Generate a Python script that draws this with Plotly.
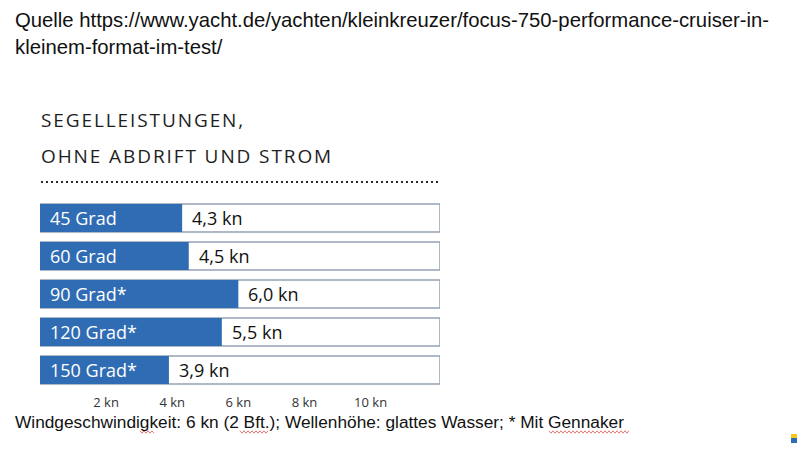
import plotly.graph_objects as go

# ---- data ----
categories = ["45 Grad", "60 Grad", "90 Grad*", "120 Grad*", "150 Grad*"]
speeds_kn = [4.3, 4.5, 6.0, 5.5, 3.9]
value_labels = ["4,3 kn", "4,5 kn", "6,0 kn", "5,5 kn", "3,9 kn"]
tick_values = [2, 4, 6, 8, 10]
tick_labels = ["2 kn", "4 kn", "6 kn", "8 kn", "10 kn"]
scale_max = 12.1

BLUE = "#2f6cb4"
BORDER = "#95a3b3"
W, H = 800, 452

fig = go.Figure()

# background boxes (full scale)
fig.add_trace(go.Bar(
    y=categories, x=[scale_max] * len(categories), orientation="h",
    marker=dict(color="white", line=dict(color=BORDER, width=1.5)),
    width=0.74, hoverinfo="skip", showlegend=False,
))
# speed bars
fig.add_trace(go.Bar(
    y=categories, x=speeds_kn, orientation="h",
    marker=dict(color=BLUE, line=dict(width=0)),
    width=0.74, showlegend=False,
))

annotations = []
for cat, v, lab in zip(categories, speeds_kn, value_labels):
    annotations.append(dict(
        x=0, y=cat, xref="x", yref="y", text=cat, showarrow=False,
        xanchor="left", yanchor="middle", xshift=8,
        font=dict(family="Open Sans", size=18, color="white"),
    ))
    annotations.append(dict(
        x=v, y=cat, xref="x", yref="y", text=lab, showarrow=False,
        xanchor="left", yanchor="middle", xshift=8,
        font=dict(family="Open Sans", size=18, color="#111111"),
    ))

def paper_text(text, x, y, size, family, color="#111111"):
    return dict(x=x / W, y=1 - y / H, xref="paper", yref="paper", text=text,
                showarrow=False, xanchor="left", yanchor="middle",
                font=dict(family=family, size=size, color=color))

def spaced(s):
    return "\u200a".join(s)

annotations += [
    paper_text("Quelle https://www.yacht.de/yachten/kleinkreuzer/focus-750-performance-cruiser-in-",
               13, 20, 20.3, "Liberation Sans"),
    paper_text("kleinem-format-im-test/", 13, 47, 20.3, "Liberation Sans"),
    paper_text(spaced("SEGELLEISTUNGEN,"), 39, 120, 19, "Open Sans", "#1e1e1e"),
    paper_text(spaced("OHNE ABDRIFT UND STROM"), 39, 156, 19, "Open Sans", "#1e1e1e"),
    paper_text("Windgeschwindigkeit: 6 kn (2 Bft.); Wellenhöhe: glattes Wasser; * Mit Gennaker",
               13, 422, 17.3, "Liberation Sans"),
]

def zigzag(x0, x1, y, step=2, amp=1.2):
    pts = []
    x = x0
    up = True
    while x <= x1:
        yy = y - amp if up else y + amp
        pts.append(f"{x / W:.5f},{1 - yy / H:.5f}")
        x += step
        up = not up
    return "M" + " L".join(pts)

shapes = [
    dict(type="line", xref="paper", yref="paper", x0=41 / W, x1=441 / W,
         y0=1 - 182 / H, y1=1 - 182 / H,
         line=dict(color="#2a2a2a", width=2, dash="2px,3px")),
    dict(type="rect", xref="paper", yref="paper", x0=791 / W, x1=797 / W,
         y0=1 - 438 / H, y1=1 - 434 / H, line=dict(width=0), fillcolor="#f2c81b"),
    dict(type="rect", xref="paper", yref="paper", x0=791 / W, x1=797 / W,
         y0=1 - 443 / H, y1=1 - 438 / H, line=dict(width=0), fillcolor="#2f6cb4"),
]
for x0, x1 in [(140, 155), (240, 268), (549, 630)]:
    shapes.append(dict(type="path", xref="paper", yref="paper",
                       path=zigzag(x0, x1, 432), line=dict(color="#d9534f", width=0.8)))

fig.update_layout(
    width=W, height=H,
    margin=dict(l=0, r=0, t=0, b=0),
    paper_bgcolor="white", plot_bgcolor="white",
    barmode="overlay",
    xaxis=dict(domain=[40 / W, 440 / W], range=[0, scale_max],
               tickvals=tick_values, ticktext=tick_labels,
               showgrid=False, zeroline=False, showline=False, ticks="",
               tickfont=dict(family="Open Sans", size=13, color="#333333"),
               ticklabelstandoff=4, fixedrange=True),
    yaxis=dict(domain=[1 - 389 / H, 1 - 199 / H], autorange="reversed",
               showticklabels=False, showgrid=False, zeroline=False,
               showline=False, ticks="", fixedrange=True),
    annotations=annotations,
    shapes=shapes,
    showlegend=False,
)

fig.write_html("out.html")
